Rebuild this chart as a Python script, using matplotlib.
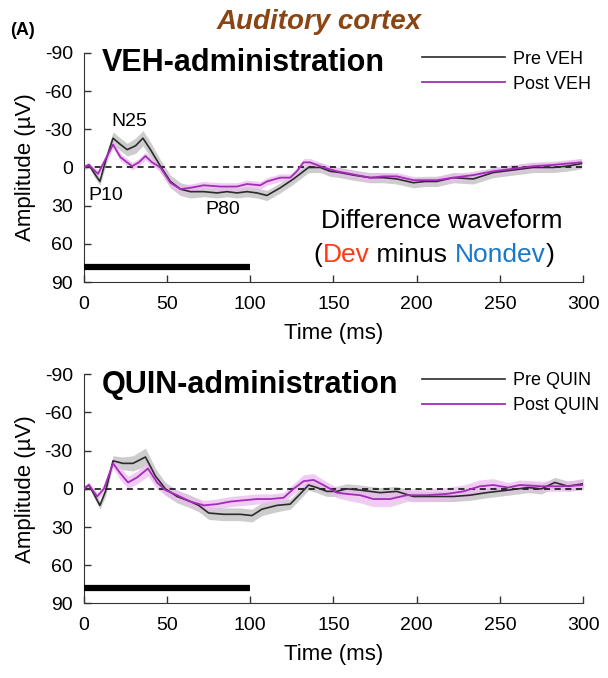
import matplotlib
matplotlib.use("Agg")
import matplotlib.pyplot as plt

plt.rcParams['font.family'] = ['Liberation Sans', 'DejaVu Sans']
plt.rcParams['axes.unicode_minus'] = False

# ---- VEH session ----
veh_pre_t = [0, 3, 6, 9.6, 13, 17.5, 22, 26, 31, 35.5, 40, 46, 52, 58, 64, 72, 80, 86, 92, 98,
             104, 110, 118, 126, 130, 135, 142, 148, 154, 162, 172, 180, 188, 198, 205, 212,
             222, 234, 246, 258, 270, 282, 290, 299]
veh_pre = [0, -2, 4, 11, -5, -23, -18, -14, -17, -23, -14, -1, 11, 17, 19, 19, 20, 19, 20, 19,
           20, 22, 16, 9, 5, 0, 0, 3, 4, 6, 8, 8, 9, 12, 11, 11,
           8, 9, 4, 2, 0, 0, -1, -3]
veh_pre_sem = [2, 2, 3, 3, 4, 5, 5, 5, 6, 6, 6, 5, 5, 5, 5, 4, 4, 4, 4, 4,
               4, 4, 4, 4, 4, 4, 4, 4, 4, 4, 4, 4, 4, 4, 4, 4,
               4, 4, 4, 4, 4, 4, 4, 4]

veh_post_t = [0, 3, 6, 8.5, 12, 17.5, 22, 29, 33, 37, 41, 46, 52, 58, 64, 72, 82, 92, 98, 106,
              110, 118, 124, 128, 132, 136, 144, 152, 160, 172, 180, 188, 198, 205, 212, 222,
              234, 246, 258, 270, 282, 290, 299]
veh_post = [0, -2, 2, 5, -4, -18, -8, -1, -4, -9, -4, 0, 12, 17, 16, 14, 15, 15, 13, 14,
            11, 8, 8, 3, -4, -4, 0, 3, 5, 8, 7, 7, 10, 10, 10, 8,
            6, 3, 1, -1, -2, -3, -4]
veh_post_sem = [2, 2, 2, 3, 3, 3, 3, 3, 3, 3, 3, 3, 3, 3, 3, 3, 3, 3, 3, 3,
                3, 3, 3, 3, 3, 3, 3, 3, 3, 3, 3, 3, 3, 3, 3, 3,
                3, 3, 3, 3, 3, 3, 3]

# ---- QUIN session ----
quin_pre_t = [0, 3, 6, 9.6, 13, 17.5, 23.5, 29.5, 37, 43, 49, 56, 64, 69, 75, 84, 94, 101, 107,
              116, 124, 130, 135, 140, 146, 152, 158, 166, 178, 188, 198, 208, 222, 232, 242,
              255, 267, 275, 283, 291, 300]
quin_pre = [0, -3, 4, 13, 2, -22, -20, -20, -25, -10, 0, 6, 10, 13, 19, 20, 20, 21, 16,
            13, 12, 4, -3, -1, 2, 2, 0, 1, 3, 2, 6, 6, 6, 5, 3,
            1, -1, 0, -5, -2, -4]
quin_pre_sem = [2, 2, 3, 3, 4, 4, 5, 6, 7, 6, 5, 5, 5, 5, 5, 5, 5, 5, 5,
                5, 4, 4, 4, 4, 4, 4, 4, 4, 4, 4, 4, 4, 4, 4, 4,
                4, 4, 4, 4, 4, 4]

quin_post_t = [0, 3, 8, 12, 17.5, 22, 26.5, 32, 38.5, 44, 49, 56, 64, 72, 80, 88, 96, 104, 112,
               120, 126, 132, 138, 144, 152, 158, 166, 174, 184, 194, 206, 218, 228, 238, 246,
               255, 262, 275, 287, 300]
quin_post = [0, -3, 6, 0, -20, -12, -5, -9, -16, -5, 1, 5, 10, 13, 12, 10, 9, 8, 8,
             7, 0, -6, -7, -3, 3, 4, 5, 8, 8, 5, 5, 4, 2, -2, -3,
             -1, -3, -2, -2, -3]
quin_post_sem = [2, 2, 3, 3, 4, 5, 5, 5, 6, 5, 4, 4, 4, 4, 4, 4, 4, 4, 4,
                 4, 4, 5, 5, 4, 4, 5, 6, 6, 6, 5, 5, 5, 5, 5, 5,
                 4, 4, 4, 4, 4]

stim_bar = [0, 100]
stim_level = 78
yticks = [-90, -60, -30, 0, 30, 60, 90]
xticks = [0, 50, 100, 150, 200, 250, 300]

pre_col = '#2b2b2b'
post_col = '#a32cb8'
pre_band = '#c8c8c8'
post_band = '#ecbcf0'

fig = plt.figure(figsize=(6.08, 6.78), dpi=100)
ax1 = fig.add_axes([0.138, 0.584, 0.821, 0.338])
ax2 = fig.add_axes([0.138, 0.110, 0.821, 0.338])

panels = [
    (ax1, veh_pre_t, veh_pre, veh_pre_sem, veh_post_t, veh_post, veh_post_sem,
     'VEH-administration', 'Pre VEH', 'Post VEH'),
    (ax2, quin_pre_t, quin_pre, quin_pre_sem, quin_post_t, quin_post, quin_post_sem,
     'QUIN-administration', 'Pre QUIN', 'Post QUIN'),
]

for ax, pt, py, ps, qt, qy, qs, title, lab_pre, lab_post in panels:
    ax.fill_between(pt, [a - b for a, b in zip(py, ps)], [a + b for a, b in zip(py, ps)],
                    color=pre_band, lw=0, alpha=0.9)
    ax.fill_between(qt, [a - b for a, b in zip(qy, qs)], [a + b for a, b in zip(qy, qs)],
                    color=post_band, lw=0, alpha=0.75)
    ax.axhline(0, color='black', ls=(0, (4, 3)), lw=1.1, zorder=1)
    ax.plot(pt, py, color=pre_col, lw=1.2, label=lab_pre, zorder=3)
    ax.plot(qt, qy, color=post_col, lw=1.3, label=lab_post, zorder=4)
    ax.plot(stim_bar, [stim_level, stim_level], color='black', lw=4.5,
            solid_capstyle='butt', zorder=5)

    ax.set_xlim(0, 300)
    ax.set_ylim(90, -90)
    ax.set_yticks(yticks)
    ax.set_xticks(xticks)
    ax.tick_params(direction='in', length=5, width=1, labelsize=14, color='#333333')
    ax.tick_params(axis='y', pad=8)
    ax.tick_params(axis='x', pad=10)
    for s in ['top', 'right']:
        ax.spines[s].set_visible(False)
    for s in ['left', 'bottom']:
        ax.spines[s].set_color('#333333')
    ax.set_xlabel('Time (ms)', fontsize=16, labelpad=7)
    ax.set_ylabel('Amplitude (µV)', fontsize=16, labelpad=6)
    ax.text(0.036, 0.955, title, transform=ax.transAxes, fontsize=22,
            fontweight='bold', va='center', ha='left')
    ax.legend(loc='upper left', bbox_to_anchor=(0.677, 1.01), frameon=False,
              fontsize=13, handlelength=4.6, handletextpad=0.45, labelspacing=0.45,
              borderpad=0, borderaxespad=0)

# peak labels on the top panel
ax1.text(27.5, -36, 'N25', fontsize=14, ha='center', va='center')
ax1.text(13, 22, 'P10', fontsize=14, ha='center', va='center')
ax1.text(83.5, 33, 'P80', fontsize=14, ha='center', va='center')

ax1.text(215, 42, 'Difference waveform', fontsize=19, ha='center', va='center')
t = ax1.text(138, 69, '(', fontsize=19, ha='left', va='center')
for piece, col in [('Dev', '#ff3a12'), (' minus ', 'black'), ('Nondev', '#1a78c8'), (')', 'black')]:
    t = ax1.annotate(piece, xy=(1, 0), xycoords=t, va='bottom', ha='left',
                     fontsize=19, color=col)

fig.text(0.525, 0.967, 'Auditory cortex', fontsize=20, fontweight='bold',
         fontstyle='italic', color='#8b4513', ha='center', va='center')
fig.text(0.016, 0.955, '(A)', fontsize=13, fontweight='bold', ha='left', va='center')

fig.savefig('out.png', dpi=100)
